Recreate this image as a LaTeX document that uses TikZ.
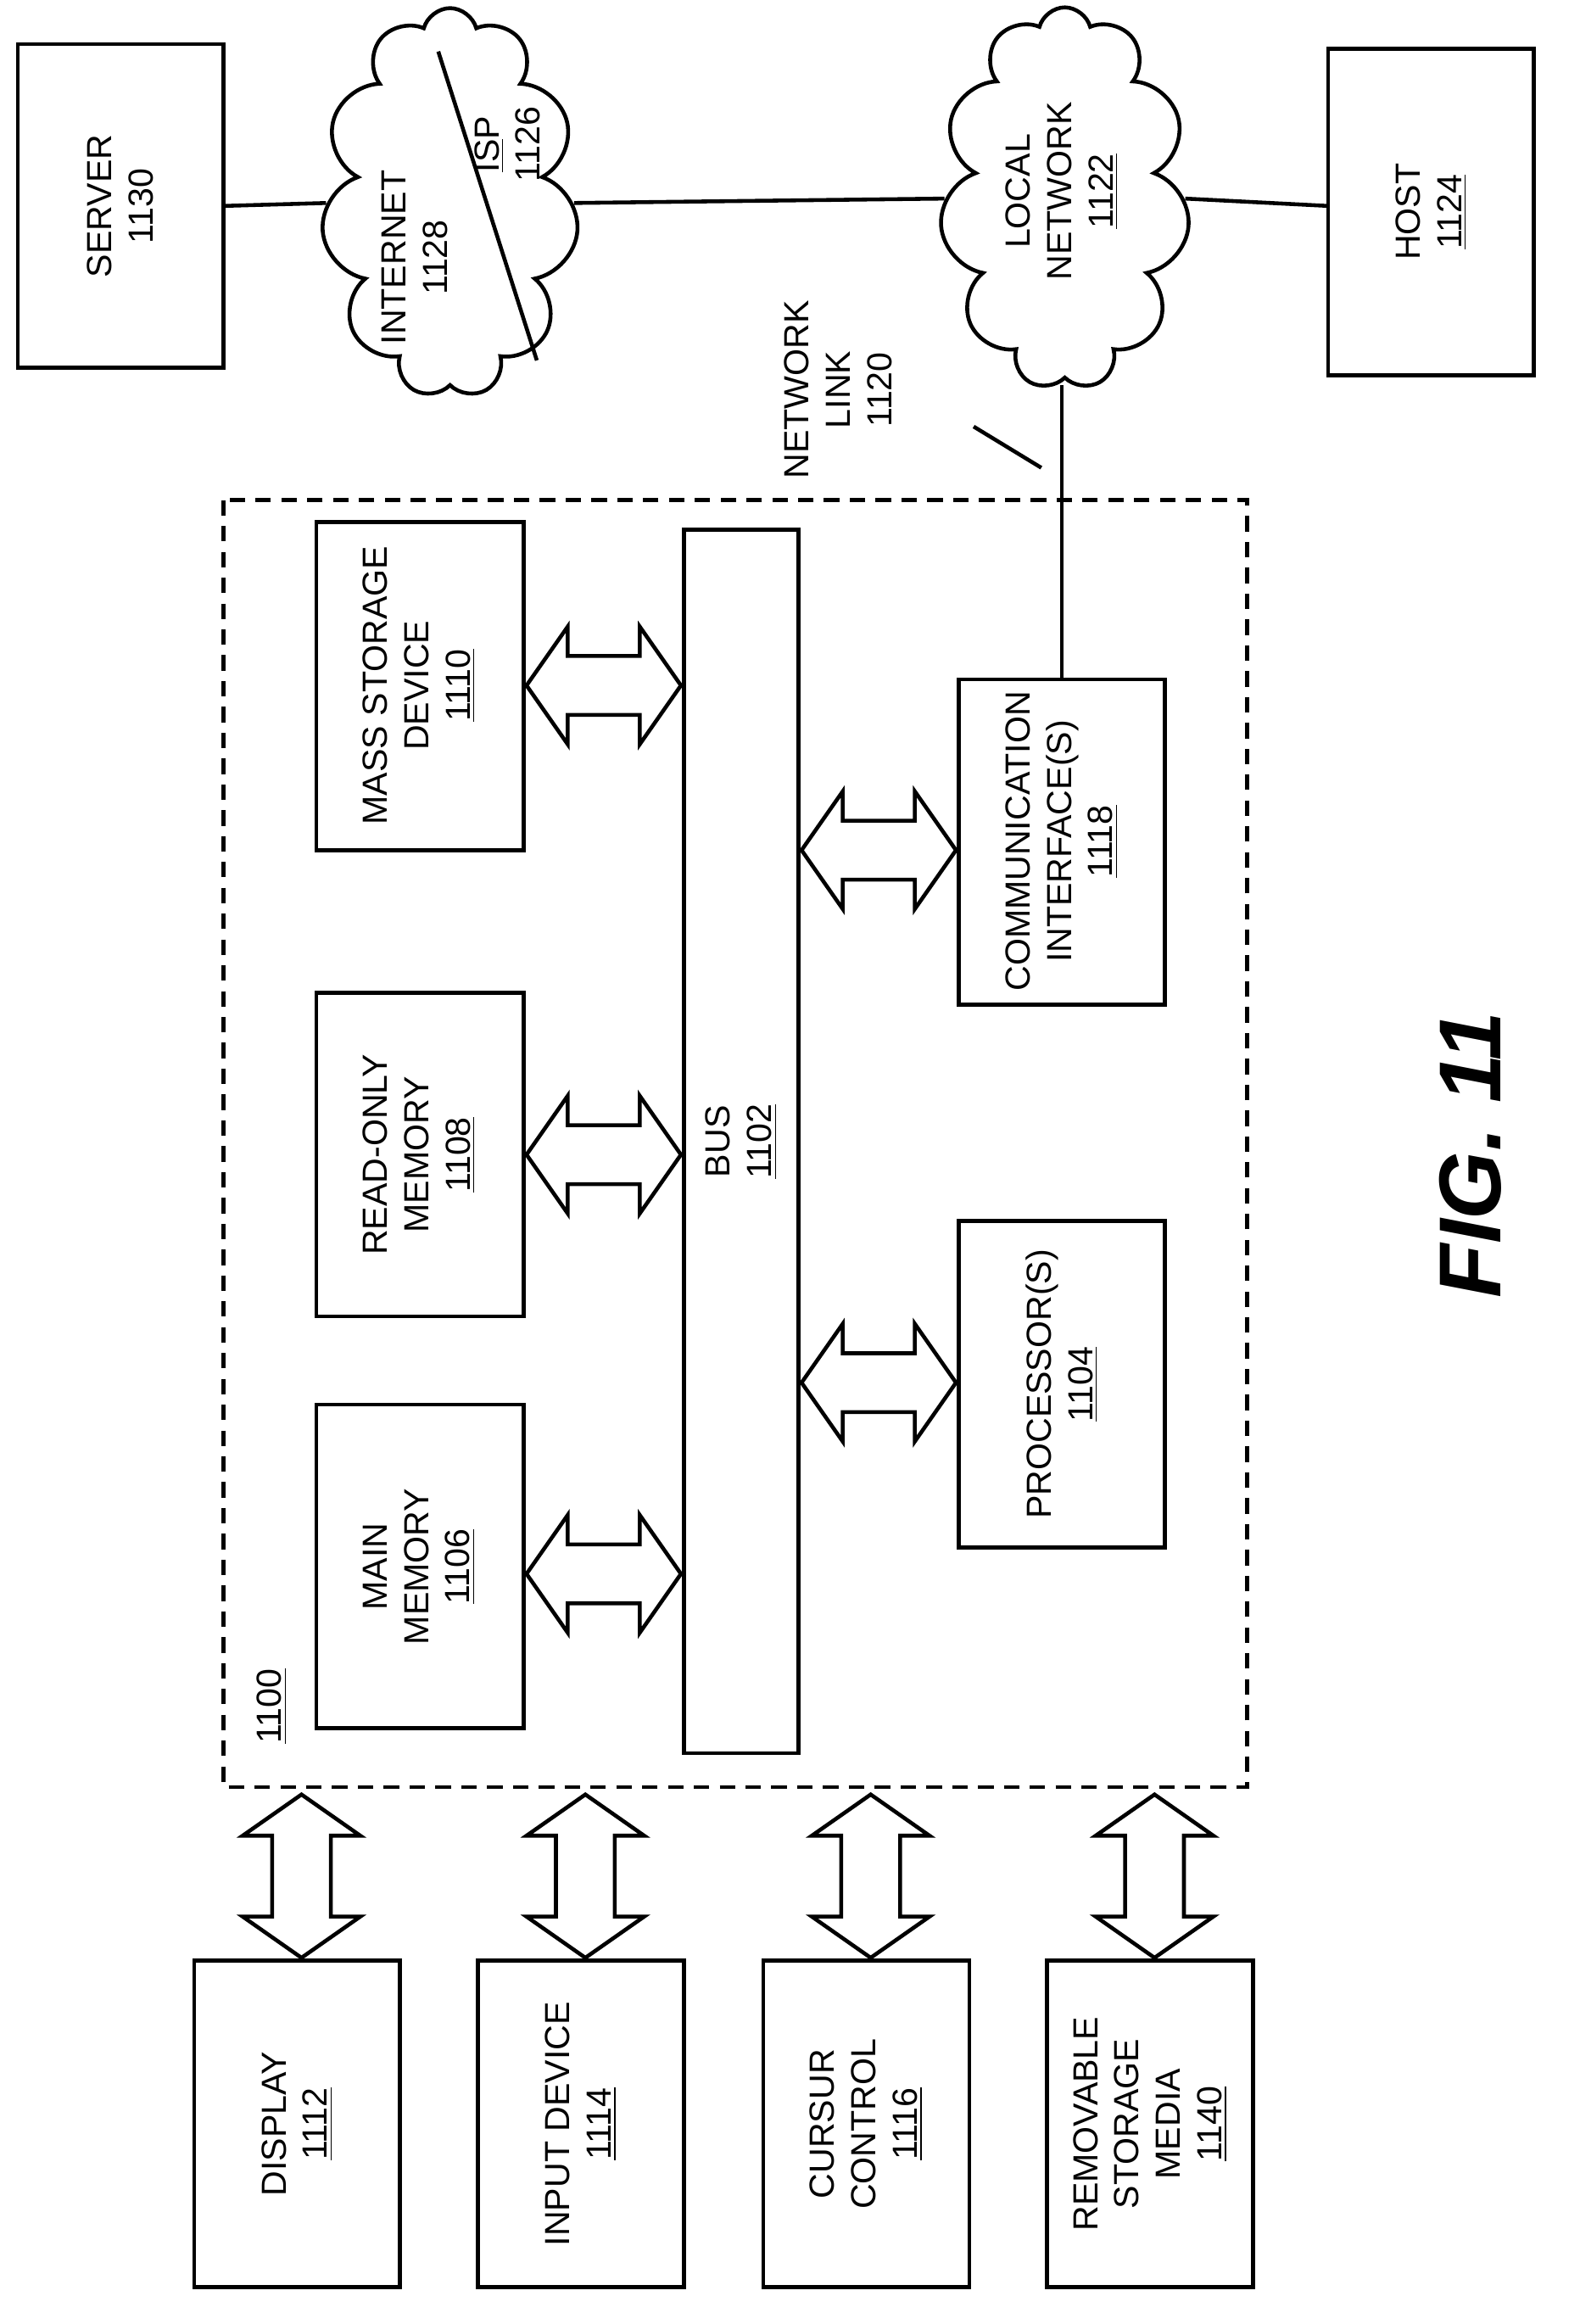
\documentclass[tikz,border=0pt]{standalone}
\usepackage{fontspec}
\setmainfont{Liberation Sans}
\usetikzlibrary{shapes.symbols}
\tikzset{
  box/.style={draw,line width=1.5pt,fill=white},
  lbl/.style={rotate=90,align=center,font=\fontsize{13.5}{16}\selectfont},
  arr/.style={draw,line width=1.5pt,fill=white},
  net/.style={cloud,draw,line width=1.5pt,cloud puffs=11,aspect=0.65}
}
% horizontal and vertical double arrows
\newcommand\harr[3]{\draw[arr] (#1,#2) -- ++(28,-40) -- ++(0,20) -- ({#3-28},{#2-20}) -- ++(0,-20) -- (#3,#2) -- ++(-28,40) -- ++(0,-20) -- ({#1+28},{#2+20}) -- ++(0,20) -- cycle;}
\newcommand\varr[3]{\draw[arr] (#1,#2) -- ++(-40,28) -- ++(20,0) -- ({#1-20},{#3-28}) -- ++(-20,0) -- (#1,#3) -- ++(40,-28) -- ++(-20,0) -- ({#1+20},{#2+28}) -- ++(20,0) -- cycle;}
\begin{document}
\begin{tikzpicture}[x=0.02cm,y=-0.02cm]
  \useasboundingbox (0,0) rectangle (1074,1580);
  % system
  \draw[line width=1.5pt,dash pattern=on 6pt off 4pt] (152,340) rectangle (848,1215);
  \node[lbl] (sys) at (185,1160) {\underline{1100}};
  \draw[box] (215,355) rectangle (356,578);
  \node[lbl] (mass) at (285,466) {MASS STORAGE\\DEVICE\\\underline{1110}};
  \draw[box] (215,675) rectangle (356,895);
  \node[lbl] (rom) at (285,785) {READ-ONLY\\MEMORY\\\underline{1108}};
  \draw[box] (215,955) rectangle (356,1175);
  \node[lbl] (main) at (285,1065) {MAIN\\MEMORY\\\underline{1106}};
  \draw[box] (465,360) rectangle (543,1192);
  \node[lbl] (bus) at (504,776) {BUS\\\underline{1102}};
  \draw[box] (652,462) rectangle (792,683);
  \node[lbl] (comm) at (722,572) {COMMUNICATION\\INTERFACE(S)\\\underline{1118}};
  \draw[box] (652,830) rectangle (792,1052);
  \node[lbl] (proc) at (722,941) {PROCESSOR(S)\\\underline{1104}};
  \harr{358}{466}{463}
  \harr{358}{785}{463}
  \harr{358}{1070}{463}
  \harr{545}{578}{650}
  \harr{545}{940}{650}
  % peripherals
  \foreach \x/\t [count=\i] in {132/{DISPLAY\\\underline{1112}},325/{INPUT DEVICE\\\underline{1114}},519/{CURSUR\\CONTROL\\\underline{1116}},712/{REMOVABLE\\STORAGE\\MEDIA\\\underline{1140}}} {
    \draw[box] (\x,1333) rectangle ({\x+140},1555);
    \node[lbl] (dev\i) at ({\x+70},1444) {\t};
    \varr{\x+73}{1220}{1331}
  }
  % network
  \draw[box] (12,30) rectangle (152,250);
  \node[lbl] (server) at (82,140) {SERVER\\1130};
  \draw[box] (903,33) rectangle (1043,255);
  \node[lbl] (host) at (973,144) {HOST\\\underline{1124}};
  \node[net,minimum width=3.5cm,minimum height=5.3cm] (inet) at (306,138) {};
  \node[net,minimum width=3.4cm,minimum height=5.2cm] (lan) at (724,135) {};
  \draw[line width=1.5pt] (298,35) -- (365,245);
  \node[lbl] (inettxt) at (282,175) {INTERNET\\1128};
  \node[lbl] (isp) at (345,98) {\underline{IS}P\\1126};
  \node[lbl] (lantxt) at (722,130) {LOCAL\\NETWORK\\\underline{1122}};
  \draw[line width=1.5pt] (152,140) -- (inet.west);
  \draw[line width=1.5pt] (inet.east) -- (lan.west);
  \draw[line width=1.5pt] (lan.east) -- (903,140);
  \coordinate (lanb) at (722,262);
  \draw[line width=1.5pt] (722,462) -- (lanb);
  \node[lbl] (link) at (570,265) {NETWORK\\LINK\\1120};
  \draw[line width=1.5pt] (662,290) -- (708,318);
  \node[rotate=90,font=\fontsize{34}{40}\selectfont\bfseries\itshape] (fig) at (1000,785) {FIG. 11};
\end{tikzpicture}
\end{document}
